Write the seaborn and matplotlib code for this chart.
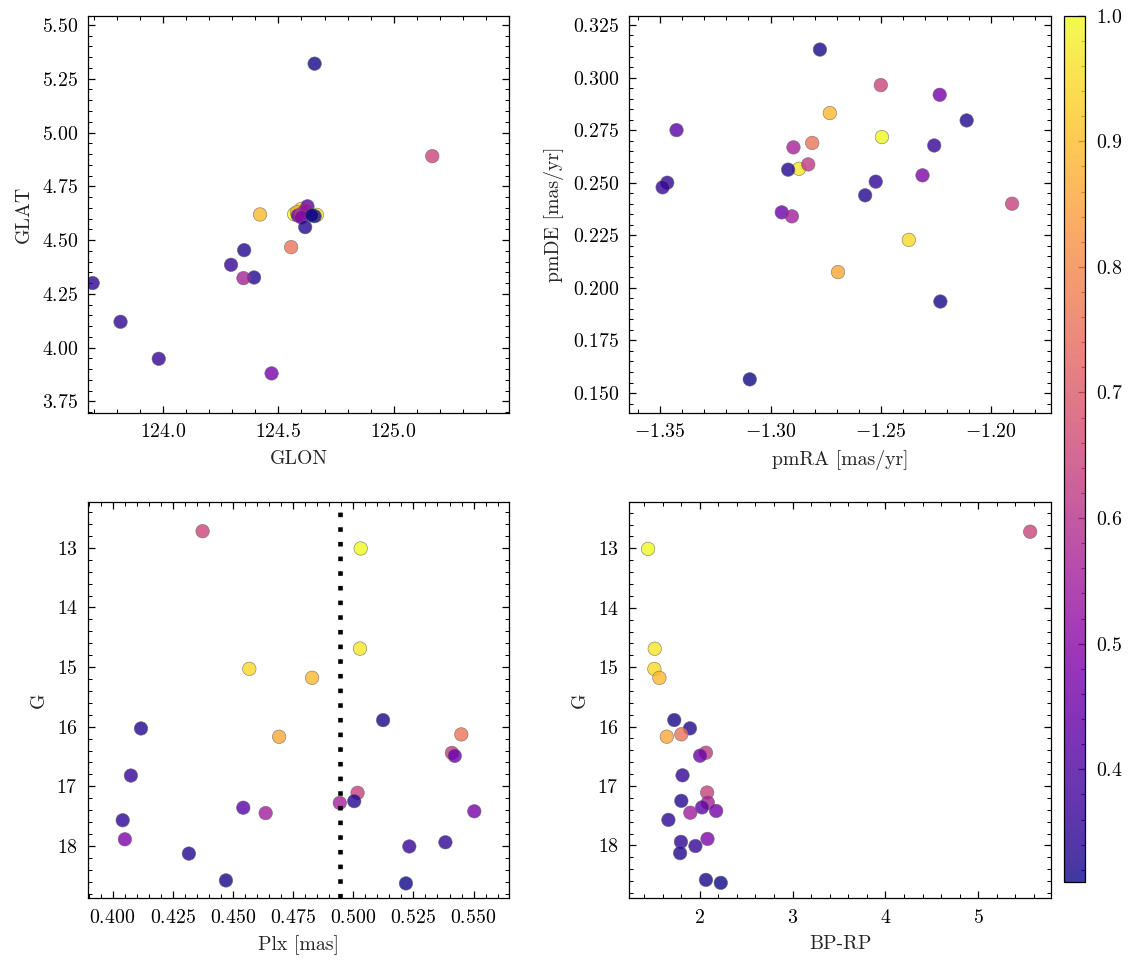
import numpy as np
import pandas as pd
import matplotlib
matplotlib.use("Agg")
import matplotlib.pyplot as plt
import seaborn as sns

# ---- data (one entry per star) ----
glon = [125.168, 124.568, 124.667, 124.600, 124.420, 124.657, 124.351, 124.555, 124.580,
        124.610, 124.584, 124.294, 124.600, 124.394, 124.348, 124.626, 124.470, 124.620,
        123.693, 124.600, 123.814, 123.980, 124.616, 124.657, 124.645]
glat = [4.890, 4.620, 4.617, 4.645, 4.619, 5.320, 4.453, 4.467, 4.630,
        4.630, 4.614, 4.385, 4.620, 4.326, 4.323, 4.657, 3.880, 4.640,
        4.300, 4.605, 4.120, 3.948, 4.560, 4.611, 4.615]
pmra = [-1.2500, -1.2495, -1.2871, -1.2373, -1.2731, -1.2776, -1.2111, -1.2811, -1.2694,
        -1.2829, -1.2949, -1.2258, -1.1905, -1.2920, -1.2896, -1.3426, -1.2233, -1.2903,
        -1.2523, -1.2311, -1.3468, -1.3489, -1.2571, -1.2230, -1.3094]
pmde = [0.2964, 0.2717, 0.2566, 0.2228, 0.2831, 0.3133, 0.2796, 0.2689, 0.2075,
        0.2587, 0.2359, 0.2677, 0.2400, 0.2562, 0.2668, 0.2750, 0.2918, 0.2340,
        0.2505, 0.2535, 0.2500, 0.2478, 0.2440, 0.1935, 0.1565]
plx = [0.4374, 0.5031, 0.5028, 0.4568, 0.4829, 0.5124, 0.4118, 0.5449, 0.4692,
       0.5410, 0.5422, 0.4076, 0.5018, 0.5004, 0.4944, 0.4543, 0.5503, 0.4636,
       0.4042, 0.4051, 0.5383, 0.5233, 0.4317, 0.4471, 0.5219]
gmag = [12.72, 13.01, 14.69, 15.03, 15.18, 15.89, 16.03, 16.13, 16.17,
        16.44, 16.49, 16.82, 17.11, 17.25, 17.28, 17.36, 17.42, 17.45,
        17.57, 17.89, 17.94, 18.01, 18.13, 18.58, 18.63]
bprp = [5.558, 1.444, 1.516, 1.512, 1.566, 1.726, 1.895, 1.802, 1.646,
        2.067, 2.004, 1.815, 2.080, 1.802, 2.088, 2.025, 2.177, 1.899,
        1.663, 2.084, 1.798, 1.954, 1.789, 2.067, 2.227]
prob = [0.65, 1.00, 0.97, 0.95, 0.89, 0.32, 0.33, 0.76, 0.86,
        0.62, 0.45, 0.36, 0.64, 0.33, 0.56, 0.42, 0.47, 0.55,
        0.35, 0.48, 0.35, 0.36, 0.33, 0.32, 0.31]
plx_ref = 0.4944

df = pd.DataFrame({"GLON": glon, "GLAT": glat, "pmRA": pmra, "pmDE": pmde,
                   "Plx": plx, "G": gmag, "BP-RP": bprp, "prob": prob})

# ---- style ----
sns.set_style("ticks")
plt.rcParams.update({
    "font.family": "cmr10",
    "mathtext.fontset": "cm",
    "axes.formatter.use_mathtext": True,
    "font.size": 9.5,
    "axes.labelsize": 9.5,
    "xtick.labelsize": 9.5,
    "ytick.labelsize": 9.5,
    "axes.linewidth": 0.6,
    "axes.edgecolor": "black",
    "xtick.direction": "in",
    "ytick.direction": "in",
    "xtick.top": True,
    "ytick.right": True,
    "xtick.minor.visible": True,
    "ytick.minor.visible": True,
    "xtick.major.size": 3.3,
    "ytick.major.size": 3.3,
    "xtick.minor.size": 1.8,
    "ytick.minor.size": 1.8,
    "xtick.major.width": 0.6,
    "ytick.major.width": 0.6,
    "xtick.minor.width": 0.5,
    "ytick.minor.width": 0.5,
    "xtick.color": "black",
    "ytick.color": "black",
    "xtick.major.pad": 5,
    "ytick.major.pad": 5,
})

W, H = 1133, 965
dpi = 150
fig = plt.figure(figsize=(W / dpi, H / dpi), dpi=dpi)

def frac(x0, y0, x1, y1):
    return [x0 / W, 1 - y1 / H, (x1 - x0) / W, (y1 - y0) / H]

ax1 = fig.add_axes(frac(88.3, 15.7, 508.7, 413.0))
ax2 = fig.add_axes(frac(629.3, 15.7, 1050.7, 413.0))
ax3 = fig.add_axes(frac(88.3, 502.0, 508.7, 898.3))
ax4 = fig.add_axes(frac(629.3, 502.0, 1050.7, 898.3))
cax = fig.add_axes(frac(1064.3, 15.7, 1085.3, 882.3))

vmin, vmax = min(prob), max(prob)
kw = dict(hue="prob", palette="plasma", hue_norm=(vmin, vmax), legend=False,
          s=42, alpha=0.8, edgecolor="0.4", linewidth=0.3)

sns.scatterplot(data=df, x="GLON", y="GLAT", ax=ax1, **kw)
ax1.set_xlim(123.674, 125.5)
ax1.set_ylim(3.696, 5.543)
ax1.set_xticks([124.0, 124.5, 125.0])

sns.scatterplot(data=df, x="pmRA", y="pmDE", ax=ax2, **kw)
ax2.set_xlim(-1.364, -1.173)
ax2.set_ylim(0.1405, 0.3294)
ax2.set_xlabel("pmRA [mas/yr]")
ax2.set_ylabel("pmDE [mas/yr]")

sns.scatterplot(data=df, x="Plx", y="G", ax=ax3, **kw)
ax3.axvline(plx_ref, color="black", linestyle=(0, (1, 2.2)), linewidth=2.2)
ax3.set_xlim(0.3899, 0.5646)
ax3.set_ylim(18.88, 12.23)
ax3.set_xlabel("Plx [mas]")

sns.scatterplot(data=df, x="BP-RP", y="G", ax=ax4, **kw)
ax4.set_xlim(1.242, 5.779)
ax4.set_ylim(18.89, 12.22)

for ax in (ax1, ax2, ax3, ax4):
    for sp in ax.spines.values():
        sp.set_visible(True)
        sp.set_linewidth(0.6)
    ax.tick_params(which="both", top=True, right=True, direction="in")
    ax.minorticks_on()

sm = plt.cm.ScalarMappable(cmap="plasma", norm=plt.Normalize(vmin, vmax))
sm.set_array([])
cb = fig.colorbar(sm, cax=cax, alpha=0.8)
cb.outline.set_linewidth(0.6)
cb.ax.tick_params(which="both", direction="in", left=False, right=True)
cb.ax.minorticks_on()

fig.savefig("out.png", dpi=dpi)
